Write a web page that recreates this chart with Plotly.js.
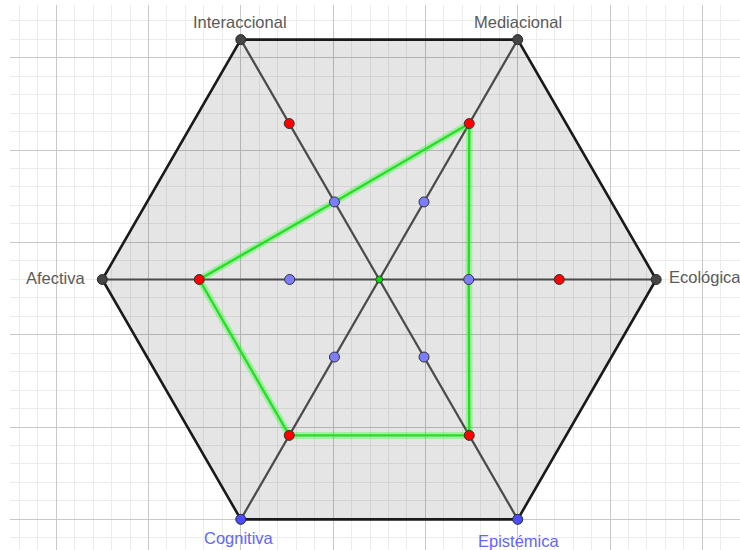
<!DOCTYPE html>
<html>
<head>
<meta charset="utf-8">
<script src="https://cdn.plot.ly/plotly-3.0.1.min.js"></script>
<style>
  html, body { margin: 0; padding: 0; background: #ffffff; }
  #chart { width: 740px; height: 550px; }
</style>
</head>
<body>
<div id="chart"></div>
<script>
// ---- Data ----
const categories = ['Ecológica', 'Mediacional', 'Interaccional', 'Afectiva', 'Cognitiva', 'Epistémica'];
const anglesDeg = [0, 60, 120, 180, 240, 300];
const hexagonValues = [3, 3, 3, 3, 3, 3];
const blueValues = [0.97, 0.97, 0.97, 0.97, 0.97, 0.97];
const redValues = [1.95, 1.95, 1.95, 1.95, 1.95, 1.95];
const profileValues = [0.97, 1.95, 0.97, 1.95, 1.95, 1.95];

// ---- Helpers ----
const toX = (r, a) => r * Math.cos(a * Math.PI / 180);
const toY = (r, a) => r * Math.sin(a * Math.PI / 180);
const closedX = vals => vals.map((r, i) => toX(r, anglesDeg[i])).concat([toX(vals[0], anglesDeg[0])]);
const closedY = vals => vals.map((r, i) => toY(r, anglesDeg[i])).concat([toY(vals[0], anglesDeg[0])]);
const pointsX = vals => vals.map((r, i) => toX(r, anglesDeg[i]));
const pointsY = vals => vals.map((r, i) => toY(r, anglesDeg[i]));

// spokes through the centre
const spokeX = [], spokeY = [];
for (let i = 0; i < 3; i++) {
  spokeX.push(toX(hexagonValues[i], anglesDeg[i]), toX(hexagonValues[i + 3], anglesDeg[i + 3]), null);
  spokeY.push(toY(hexagonValues[i], anglesDeg[i]), toY(hexagonValues[i + 3], anglesDeg[i + 3]), null);
}

const darkDot = '#454545';
const blueVertex = '#4d4dff';
const vertexColors = categories.map(c => (c === 'Cognitiva' || c === 'Epistémica') ? blueVertex : darkDot);

const traces = [
  { // hexagon
    type: 'scatter', mode: 'lines',
    x: closedX(hexagonValues), y: closedY(hexagonValues),
    fill: 'toself', fillcolor: 'rgba(0,0,0,0.10)',
    line: { color: '#1a1a1a', width: 2.6 }
  },
  { // spokes
    type: 'scatter', mode: 'lines',
    x: spokeX, y: spokeY,
    line: { color: '#4a4a4a', width: 2.2 }
  },
  { // green glow
    type: 'scatter', mode: 'lines',
    x: closedX(profileValues), y: closedY(profileValues),
    line: { color: 'rgba(0,255,0,0.28)', width: 7 }
  },
  { // green profile
    type: 'scatter', mode: 'lines',
    x: closedX(profileValues), y: closedY(profileValues),
    line: { color: '#22e022', width: 2.4 }
  },
  { // blue points
    type: 'scatter', mode: 'markers',
    x: pointsX(blueValues), y: pointsY(blueValues),
    marker: { size: 10, color: '#7d7dff', line: { color: '#333333', width: 1 } }
  },
  { // red points
    type: 'scatter', mode: 'markers',
    x: pointsX(redValues), y: pointsY(redValues),
    marker: { size: 10, color: '#ff0000', line: { color: '#333333', width: 1 } }
  },
  { // hexagon vertices
    type: 'scatter', mode: 'markers',
    x: pointsX(hexagonValues), y: pointsY(hexagonValues),
    marker: { size: 10, color: vertexColors, line: { color: '#2a2a2a', width: 1 } }
  },
  { // centre
    type: 'scatter', mode: 'markers',
    x: [0], y: [0],
    marker: { size: 7, color: '#00e000', line: { color: '#2a2a2a', width: 0.8 } }
  }
];

// label placement
const labelFont = { family: 'Liberation Sans, Arial, sans-serif', size: 16.5, color: '#5a5a5a' };
const labelBlue = { family: 'Liberation Sans, Arial, sans-serif', size: 16.5, color: '#6464ff' };
const labelPlace = {
  'Ecológica':     { xanchor: 'left',   xshift: 12,  yshift: 2,   font: labelFont },
  'Mediacional':   { xanchor: 'center', xshift: 0,   yshift: 18,  font: labelFont },
  'Interaccional': { xanchor: 'center', xshift: -1,  yshift: 18,  font: labelFont },
  'Afectiva':      { xanchor: 'right',  xshift: -15, yshift: 1,   font: labelFont },
  'Cognitiva':     { xanchor: 'center', xshift: -2,  yshift: -19, font: labelBlue },
  'Epistémica':    { xanchor: 'center', xshift: 1,   yshift: -22, font: labelBlue }
};
const annotations = categories.map((c, i) => Object.assign({
  x: toX(hexagonValues[i], anglesDeg[i]),
  y: toY(hexagonValues[i], anglesDeg[i]),
  text: c, showarrow: false, yanchor: 'middle', borderpad: 0
}, labelPlace[c]));

const gridAxis = (range, tick0) => ({
  range: range, autorange: false,
  tick0: tick0, dtick: 1,
  showgrid: true, gridcolor: '#c8c8c8', gridwidth: 1,
  minor: { tick0: tick0, dtick: 0.2, showgrid: true, gridcolor: '#ececec', gridwidth: 1 },
  zeroline: false, showticklabels: false, ticks: '', showline: false, fixedrange: true
});

const layout = {
  width: 740, height: 550,
  margin: { l: 10, r: 0, t: 5, b: 0 },
  paper_bgcolor: '#ffffff', plot_bgcolor: '#ffffff',
  showlegend: false, hovermode: false,
  xaxis: gridAxis([-4.0, 3.908], -1.5),
  yaxis: gridAxis([-2.93, 2.973], -2.598),
  annotations: annotations
};

Plotly.newPlot('chart', traces, layout, { displayModeBar: false, staticPlot: true });
</script>
</body>
</html>
